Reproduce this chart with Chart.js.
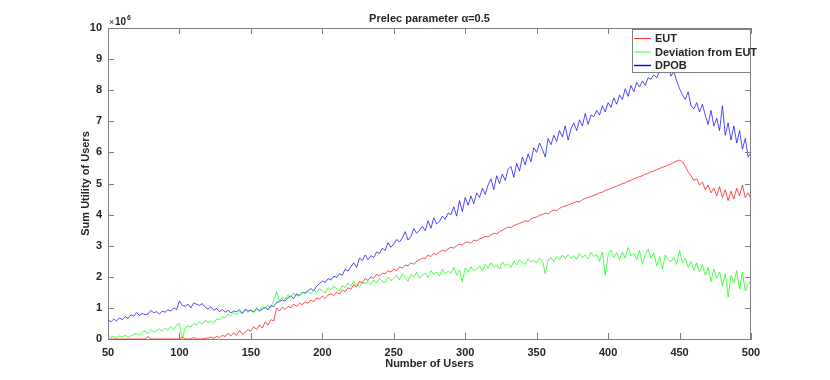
<!DOCTYPE html>
<html lang="en">
<head>
<meta charset="UTF-8">
<title>Prelec parameter α=0.5</title>
<script src="https://cdn.jsdelivr.net/npm/chart.js"></script>
<style>
    body { margin: 0; background: #fff; }
    canvas { display: block; }
</style>
</head>
<body>
<canvas id="chart" width="830" height="380"></canvas>
<script>
// number of users, every 2nd user from 50 to 500
const users = Array.from({ length: 226 }, (_, i) => 50 + 2 * i);

// values in units of 10^6
const eut = [
    0, 0, 0, 0, 0, 0, 0, 0, 0, 0,
    0, 0, 0, 0, 0.08, 0, 0, 0, 0, 0,
    0, 0, 0, 0, 0, 0, 0.06, 0, 0, 0,
    0.05, 0, 0, 0, 0.02, 0.03, 0.06, 0.02, 0.08, 0.05,
    0.12, 0.08, 0.18, 0.10, 0.20, 0.12, 0.28, 0.15, 0.22, 0.30,
    0.25, 0.40, 0.30, 0.45, 0.35, 0.55, 0.45, 0.62, 0.58, 1.00,
    0.90, 1.02, 0.95, 1.05, 1.00, 1.12, 1.05, 1.15, 1.10, 1.20,
    1.15, 1.25, 1.20, 1.32, 1.28, 1.38, 1.30, 1.42, 1.45, 1.40,
    1.50, 1.45, 1.58, 1.52, 1.65, 1.60, 1.75, 1.68, 1.85, 1.80,
    1.95, 1.88, 2.00, 1.95, 2.08, 2.02, 2.12, 2.10, 2.20, 2.15,
    2.25, 2.20, 2.32, 2.28, 2.38, 2.35, 2.45, 2.40, 2.50, 2.55,
    2.60, 2.58, 2.70, 2.65, 2.75, 2.72, 2.80, 2.85, 2.82, 2.90,
    2.95, 2.92, 3.00, 3.05, 3.02, 3.10, 3.12, 3.08, 3.18, 3.15,
    3.22, 3.25, 3.30, 3.28, 3.35, 3.40, 3.38, 3.45, 3.50, 3.55,
    3.60, 3.58, 3.65, 3.68, 3.72, 3.75, 3.80, 3.78, 3.85, 3.90,
    3.92, 3.98, 4.00, 4.05, 4.02, 4.10, 4.15, 4.12, 4.20, 4.25,
    4.28, 4.30, 4.35, 4.38, 4.42, 4.40, 4.48, 4.52, 4.55, 4.58,
    4.62, 4.65, 4.70, 4.72, 4.78, 4.80, 4.85, 4.88, 4.92, 4.95,
    5.00, 5.02, 5.08, 5.10, 5.15, 5.18, 5.22, 5.25, 5.30, 5.32,
    5.38, 5.40, 5.45, 5.48, 5.52, 5.55, 5.60, 5.62, 5.68, 5.72,
    5.75, 5.70, 5.55, 5.38, 5.25, 5.10, 5.15, 4.95, 5.05, 4.80,
    4.95, 4.70, 4.85, 4.60, 4.90, 4.55, 4.80, 4.45, 4.75, 4.50,
    4.85, 4.60, 4.95, 4.55, 4.70, 4.50
];

const deviation = [
    0.15, 0.05, 0.08, 0.04, 0.10, 0.06, 0.12, 0.05, 0.10, 0.15,
    0.18, 0.12, 0.22, 0.25, 0.18, 0.30, 0.22, 0.28, 0.32, 0.25,
    0.35, 0.28, 0.40, 0.30, 0.45, 0.50, 0.02, 0.35, 0.42, 0.38,
    0.50, 0.45, 0.55, 0.48, 0.60, 0.52, 0.58, 0.50, 0.65, 0.62,
    0.72, 0.68, 0.80, 0.75, 0.85, 0.78, 0.88, 0.82, 0.92, 0.86,
    0.95, 0.88, 1.00, 0.92, 1.05, 0.98, 1.10, 1.00, 1.25, 1.52,
    1.20, 1.35, 1.28, 1.42, 1.35, 1.48, 1.40, 1.38, 1.50, 1.45,
    1.52, 1.45, 1.58, 1.50, 1.62, 1.55, 1.48, 1.65, 1.58, 1.70,
    1.62, 1.55, 1.72, 1.65, 1.80, 1.70, 1.85, 1.75, 1.68, 1.82,
    1.78, 1.85, 1.75, 1.90, 1.80, 1.95, 1.85, 1.82, 2.00, 1.88,
    1.95, 2.05, 1.90, 2.10, 1.98, 1.85, 2.08, 2.00, 2.15, 1.95,
    2.05, 2.12, 1.98, 2.20, 2.08, 2.15, 2.02, 2.25, 2.10, 2.18,
    2.12, 2.30, 2.05, 2.22, 1.85, 2.28, 2.15, 2.32, 2.20, 2.25,
    2.35, 2.18, 2.40, 2.28, 2.45, 2.30, 2.38, 2.25, 2.48, 2.35,
    2.42, 2.30, 2.50, 2.38, 2.55, 2.45, 2.40, 2.58, 2.48, 2.52,
    2.45, 2.60, 2.50, 2.10, 2.55, 2.62, 2.48, 2.65, 2.55, 2.70,
    2.58, 2.72, 2.60, 2.68, 2.55, 2.75, 2.62, 2.70, 2.58, 2.78,
    2.65, 2.72, 2.50, 2.80, 2.05, 2.70, 2.85, 2.62, 2.78, 2.55,
    2.80, 2.60, 2.95, 2.68, 2.75, 2.55, 2.85, 2.40, 2.70, 2.90,
    2.60, 2.75, 2.35, 2.65, 2.25, 2.70, 2.55, 2.48, 2.62, 2.40,
    2.85, 2.45, 2.60, 2.30, 2.50, 2.20, 2.45, 2.15, 2.38, 2.05,
    2.30, 1.85, 2.25, 1.95, 2.15, 1.70, 2.10, 1.35, 2.05, 1.80,
    2.20, 1.60, 2.15, 1.55, 1.75, 1.90
];

const dpob = [
    0.62, 0.55, 0.64, 0.58, 0.68, 0.62, 0.72, 0.66, 0.78, 0.74,
    0.85, 0.76, 0.82, 0.78, 0.80, 0.92, 0.84, 0.88, 0.80, 0.90,
    0.86, 0.94, 0.90, 1.00, 0.95, 1.22, 1.08, 1.05, 1.12, 1.00,
    1.16, 1.12, 1.08, 1.14, 1.02, 0.96, 1.04, 0.92, 0.98, 0.88,
    0.95, 0.86, 0.92, 0.84, 0.90, 0.88, 0.94, 0.82, 0.96, 0.90,
    0.92, 0.86, 0.98, 0.90, 0.96, 1.02, 0.94, 1.08, 1.04, 1.18,
    1.20, 1.26, 1.22, 1.34, 1.38, 1.30, 1.45, 1.40, 1.50, 1.48,
    1.56, 1.62, 1.55, 1.70, 1.78, 1.86, 1.82, 1.94, 1.90, 2.02,
    1.98, 2.10, 2.05, 2.25, 2.18, 2.32, 2.45, 2.30, 2.60, 2.52,
    2.70, 2.55, 2.68, 2.62, 2.80, 2.75, 2.92, 2.85, 3.10, 2.95,
    3.05, 3.20, 3.12, 3.25, 3.45, 3.18, 3.30, 3.55, 3.40, 3.50,
    3.62, 3.48, 3.80, 3.56, 3.90, 3.70, 3.78, 3.95, 3.85, 4.05,
    4.00, 4.25, 3.95, 4.45, 4.10, 4.55, 4.30, 4.60, 4.35, 4.70,
    4.55, 4.85, 4.65, 4.95, 5.15, 4.80, 5.25, 5.00, 5.30, 5.10,
    5.45, 5.55, 5.20, 5.65, 5.40, 5.85, 5.60, 5.95, 5.70, 6.15,
    6.00, 6.30, 6.10, 5.85, 6.45, 6.25, 6.55, 6.35, 6.70, 6.50,
    6.85, 6.40, 6.75, 6.95, 6.70, 7.05, 6.85, 7.25, 6.90, 7.20,
    7.15, 7.35, 7.20, 7.50, 7.30, 7.60, 7.45, 7.75, 7.55, 7.85,
    7.70, 8.05, 7.80, 8.15, 7.95, 8.25, 8.10, 8.30, 8.15, 8.40,
    8.35, 8.50, 8.40, 8.60, 8.75, 8.55, 8.80, 8.45, 8.60, 8.30,
    8.05, 7.85, 7.70, 7.95, 7.50, 7.40, 7.60, 7.30, 7.55, 7.20,
    6.90, 7.35, 6.85, 7.10, 6.70, 7.50, 6.55, 6.95, 6.40, 6.85,
    6.30, 6.70, 6.10, 6.45, 5.85, 6.00
];

const xTicks = [50, 100, 150, 200, 250, 300, 350, 400, 450, 500];
const yTicks = [0, 1, 2, 3, 4, 5, 6, 7, 8, 9, 10];

const FONT = "'Liberation Sans', Arial, sans-serif";
const TEXT = "#262626";
const AXIS = "#808080";

function pts(values) {
    return values.map((v, i) => ({ x: users[i], y: v }));
}

// MATLAB-like box, inward ticks, labels and legend
const matlabFrame = {
    id: "matlabFrame",
    afterDraw(chart) {
        const ctx = chart.ctx;
        const a = chart.chartArea;
        const xs = chart.scales.x, ys = chart.scales.y;
        ctx.save();
        ctx.strokeStyle = AXIS;
        ctx.lineWidth = 1;
        ctx.beginPath();
        ctx.moveTo(a.left + 0.5, a.top + 0.5);
        ctx.lineTo(a.right - 0.5, a.top + 0.5);
        ctx.lineTo(a.right - 0.5, a.bottom);
        xTicks.forEach(v => {
            const px = Math.round(xs.getPixelForValue(v)) + 0.5;
            ctx.moveTo(px, a.bottom);
            ctx.lineTo(px, a.bottom - 6);
            ctx.moveTo(px, a.top);
            ctx.lineTo(px, a.top + 6);
        });
        yTicks.forEach(v => {
            const py = Math.round(ys.getPixelForValue(v)) + 0.5;
            ctx.moveTo(a.left, py);
            ctx.lineTo(a.left + 6, py);
            ctx.moveTo(a.right, py);
            ctx.lineTo(a.right - 6, py);
        });
        ctx.stroke();

        ctx.fillStyle = TEXT;
        ctx.textAlign = "center";
        ctx.textBaseline = "middle";
        ctx.font = "bold 11px " + FONT;
        const cx = (a.left + a.right) / 2;
        ctx.fillText("Prelec parameter α=0.5", cx, 19);
        ctx.fillText("Number of Users", cx, 364);
        ctx.save();
        ctx.translate(86, (a.top + a.bottom) / 2);
        ctx.rotate(-Math.PI / 2);
        ctx.fillText("Sum Utility of Users", 0, 0);
        ctx.restore();

        // exponent label
        ctx.textAlign = "left";
        ctx.textBaseline = "alphabetic";
        ctx.font = "9px " + FONT;
        ctx.fillText("×", 109, 25);
        ctx.font = "bold 10px " + FONT;
        ctx.fillText("10", 115, 25);
        ctx.font = "bold 7px " + FONT;
        ctx.fillText("6", 127, 20);

        // legend
        const lx = 632.5, ly = 29.5, lw = 118, lh = 43;
        ctx.fillStyle = "#fff";
        ctx.fillRect(lx, ly, lw, lh);
        ctx.strokeStyle = AXIS;
        ctx.strokeRect(lx, ly, lw, lh);
        ctx.font = "bold 11px " + FONT;
        ctx.textBaseline = "middle";
        chart.data.datasets.forEach((ds, i) => {
            const y = 38.5 + i * 13.5;
            ctx.strokeStyle = ds.borderColor;
            ctx.lineWidth = i === 2 ? 1.4 : 0.8;
            ctx.beginPath();
            ctx.moveTo(634, y);
            ctx.lineTo(651, y);
            ctx.stroke();
            ctx.fillStyle = TEXT;
            ctx.fillText(ds.label, 655, y + 0.5);
        });
        ctx.restore();
    }
};

new Chart(document.getElementById("chart").getContext("2d"), {
    type: "line",
    data: {
        datasets: [
            { label: "EUT", data: pts(eut), borderColor: "#ff0000" },
            { label: "Deviation from EUT", data: pts(deviation), borderColor: "#00ff00" },
            { label: "DPOB", data: pts(dpob), borderColor: "#0000ff" }
        ]
    },
    options: {
        responsive: false,
        animation: false,
        layout: { padding: { left: 0, right: 79, top: 28, bottom: 0 } },
        elements: {
            line: { borderWidth: 0.7, tension: 0, fill: false },
            point: { radius: 0 }
        },
        datasets: { line: { clip: 3 } },
        plugins: {
            legend: { display: false },
            title: { display: false },
            tooltip: { enabled: false }
        },
        scales: {
            x: {
                type: "linear",
                min: 50,
                max: 500,
                afterFit(s) { s.height = 41; },
                afterBuildTicks(s) { s.ticks = xTicks.map(v => ({ value: v })); },
                grid: { display: false, drawTicks: false },
                border: { display: true, color: AXIS, width: 1 },
                ticks: { color: TEXT, padding: 7, maxRotation: 0, font: { family: FONT, size: 11, weight: "bold" } }
            },
            y: {
                min: 0,
                max: 10,
                afterFit(s) { s.width = 108; },
                afterBuildTicks(s) { s.ticks = yTicks.map(v => ({ value: v })); },
                grid: { display: false, drawTicks: false },
                border: { display: true, color: AXIS, width: 1 },
                ticks: { color: TEXT, padding: 6, font: { family: FONT, size: 11, weight: "bold" } }
            }
        }
    },
    plugins: [matlabFrame]
});
</script>
</body>
</html>
